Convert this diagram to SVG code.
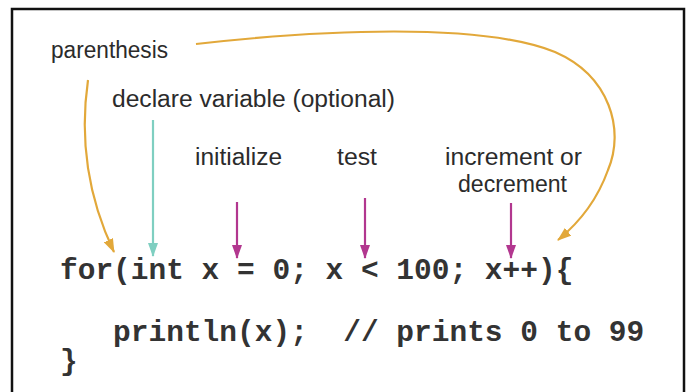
<svg xmlns="http://www.w3.org/2000/svg" width="687" height="392" viewBox="0 0 687 392">
<defs>
<style>
.lbl{font-family:"Liberation Sans",Arial,sans-serif;font-size:23.5px;fill:#2b2b2b}
.code{font-family:"Liberation Mono","Courier New",monospace;font-size:29.5px;font-weight:bold;fill:#333333;white-space:pre}
.gold{stroke:#E2A83A;stroke-width:2.2;fill:none}
.teal{stroke:#7FCFC1;stroke-width:2.2;fill:none}
.mag{stroke:#B2378F;stroke-width:2.2;fill:none}
</style>
<marker id="ahGold" viewBox="0 0 14 10" refX="13" refY="5" markerWidth="14" markerHeight="10" markerUnits="userSpaceOnUse" orient="auto"><path d="M0,0 L14,5 L0,10 Z" fill="#E2A83A"/></marker>
<marker id="ahTeal" viewBox="0 0 14 10" refX="13" refY="5" markerWidth="14" markerHeight="10" markerUnits="userSpaceOnUse" orient="auto"><path d="M0,0 L14,5 L0,10 Z" fill="#7FCFC1"/></marker>
<marker id="ahMag" viewBox="0 0 14 10" refX="13" refY="5" markerWidth="14" markerHeight="10" markerUnits="userSpaceOnUse" orient="auto"><path d="M0,0 L14,5 L0,10 Z" fill="#B2378F"/></marker>
</defs>
<rect x="0" y="0" width="687" height="392" fill="#ffffff"/>
<rect x="12" y="9" width="672" height="400" fill="#ffffff" stroke="#111" stroke-width="2.5"/>

<g id="connectors">
<path class="gold" d="M196,44 C320,30 480,22 555,52 C610,76 625,130 608,170 C598,198 580,222 558,240" marker-end="url(#ahGold)"/>
<path class="gold" d="M88,80 Q75,170 114,252" marker-end="url(#ahGold)"/>
<path class="teal" d="M153,120 L153,256" marker-end="url(#ahTeal)"/>
<path class="mag" d="M237,202 L237,258" marker-end="url(#ahMag)"/>
<path class="mag" d="M365,198 L365,258" marker-end="url(#ahMag)"/>
<path class="mag" d="M511,203 L511,258" marker-end="url(#ahMag)"/>
</g>

<g id="label-parenthesis"><text class="lbl" x="51" y="58" textLength="117" lengthAdjust="spacingAndGlyphs">parenthesis</text></g>
<g id="label-declare"><text class="lbl" x="112" y="107" textLength="283" lengthAdjust="spacingAndGlyphs">declare variable (optional)</text></g>
<g id="label-initialize"><text class="lbl" x="195" y="165" textLength="87" lengthAdjust="spacingAndGlyphs">initialize</text></g>
<g id="label-test"><text class="lbl" x="337" y="165" textLength="40" lengthAdjust="spacingAndGlyphs">test</text></g>
<g id="label-increment">
<text class="lbl" x="445" y="165" textLength="137" lengthAdjust="spacingAndGlyphs">increment or</text>
<text class="lbl" x="458" y="192" textLength="109" lengthAdjust="spacingAndGlyphs">decrement</text>
</g>

<g id="code">
<text class="code" x="60" y="279">for(int x = 0; x &lt; 100; x++){</text>
<text class="code" x="60" y="341" xml:space="preserve">   println(x);  // prints 0 to 99</text>
<text class="code" x="60" y="370">}</text>
</g>
</svg>
